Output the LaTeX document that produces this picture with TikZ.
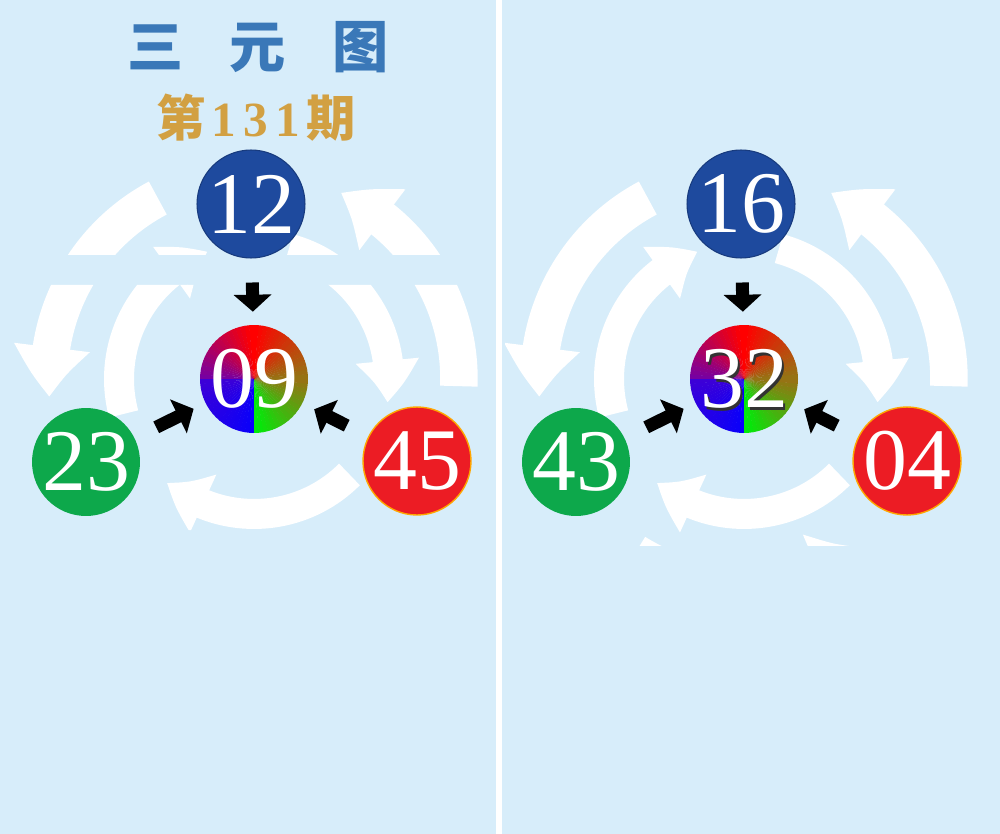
\documentclass[tikz,border=0pt]{standalone}
\usepackage{fontspec}
\setmainfont{Liberation Serif}
\newfontfamily\cjk{Noto Sans CJK SC}
\usetikzlibrary{arrows.meta,bending}

\definecolor{bgblue}{HTML}{D7EDFA}
\definecolor{ballblue}{HTML}{1E4A9E}
\definecolor{ballgreen}{HTML}{0DA84B}
\definecolor{ballred}{HTML}{EC1C24}
\definecolor{titleblue}{HTML}{3A78B8}
\definecolor{gold}{HTML}{D2A042}
\definecolor{olv}{RGB}{150,115,20}
\definecolor{purp}{RGB}{120,0,160}
\definecolor{bpurp}{RGB}{60,0,215}
\definecolor{blu}{RGB}{10,0,250}
\definecolor{grn}{RGB}{0,235,10}

\tikzset{
  ball/.style={circle, inner sep=0pt, minimum size=2.16cm, text=white,
    font=\fontsize{50}{50}\selectfont},
  blueball/.style={ball, fill=ballblue, draw=ballblue!80!black, line width=0.6pt},
  greenball/.style={ball, fill=ballgreen},
  redball/.style={ball, fill=ballred, draw=orange!70!yellow, line width=0.8pt},
  rgbball/.style={ball, path picture={
    \foreach \qa/\ca/\cb in {0/olv/red,90/red/purp,180/bpurp/blu,270/grn/olv}
      \foreach \i in {0,...,17}{
        \pgfmathtruncatemacro\pct{100*\i/17}
        \fill[\cb!\pct!\ca] (path picture bounding box.center) -- ++(\qa+5*\i:1.2cm)
          arc[start angle=\qa+5*\i, end angle=\qa+5*\i+5.5, radius=1.2cm] -- cycle;
      }
    \node[text=black!80, font=\fontsize{50}{50}\selectfont]
      at ([shift={(0.05cm,-0.05cm)}]path picture bounding box.center) {#1};}},
  blkarrow/.style={draw=black, line width=0.26cm, shorten <=0.48cm, shorten >=0.26cm,
    -{Triangle[width=0.74cm,length=0.34cm]}},
  innerring/.style={draw=white, line width=0.6cm, -{Triangle[width=1.2cm,length=0.85cm,bend]}},
  outerring/.style={draw=white, line width=0.75cm, -{Triangle[width=1.45cm,length=1cm,bend]}},
  titletxt/.style={text=titleblue, font=\cjk\bfseries\fontsize{32}{32}\selectfont},
  issuetxt/.style={text=gold, font=\fontsize{28}{28}\selectfont\bfseries}
}

\begin{document}
\begin{tikzpicture}[x=0.02cm, y=0.02cm]
  \useasboundingbox (0,0) rectangle (1000,-834);
  \fill[bgblue] (0,0) rectangle (1000,-834);
  \fill[white] (496,0) rectangle (502,-834);

  % title
  \node[titletxt] (title) at (258,-47) {三\hspace{0.83em}元\hspace{0.83em}图};
  \node[issuetxt] (issue) at (256,-118)
    {{\cjk 第}\hspace{0.12em}1\hspace{0.15em}3\hspace{0.15em}1\hspace{0.12em}{\cjk 期}};

  % left panel
  \coordinate (m1) at (254,-379);
  \begin{scope}
    \clip (5,0) rectangle (492,-255) (5,-285) rectangle (492,-530);
    \foreach \s/\e in {195/110,75/-10,-45/-130}
      \draw[innerring] (m1) ++(\s:2.7cm) arc[start angle=\s, end angle=\e, radius=2.7cm];
    \foreach \s/\e in {118/185,238/305,358/425}
      \draw[outerring] (m1) ++(\s:4.1cm) arc[start angle=\s, end angle=\e, radius=4.1cm];
  \end{scope}
  \node[blueball] (c12) at (251,-204) {12};
  \node[rgbball={}] (c09) at (m1) {09};
  \node[greenball] (c23) at (86,-462) {23};
  \node[redball] (c45) at (417,-461) {45};
  \draw[blkarrow] (c12) -- (c09);
  \draw[blkarrow] (c23) -- (c09);
  \draw[blkarrow] (c45) -- (c09);

  % right panel
  \coordinate (m2) at (744,-379);
  \begin{scope}
    \clip (505,0) rectangle (1000,-545);
    \foreach \s/\e in {195/110,75/-10,-45/-130}
      \draw[innerring] (m2) ++(\s:2.7cm) arc[start angle=\s, end angle=\e, radius=2.7cm];
    \foreach \s/\e in {118/185,238/305,358/425}
      \draw[outerring] (m2) ++(\s:4.1cm) arc[start angle=\s, end angle=\e, radius=4.1cm];
  \end{scope}
  \node[blueball] (c16) at (741,-204) {16};
  \node[rgbball=32] (c32) at (m2) {32};
  \node[greenball] (c43) at (576,-462) {43};
  \node[redball] (c04) at (907,-461) {04};
  \draw[blkarrow] (c16) -- (c32);
  \draw[blkarrow] (c43) -- (c32);
  \draw[blkarrow] (c04) -- (c32);
\end{tikzpicture}
\end{document}
